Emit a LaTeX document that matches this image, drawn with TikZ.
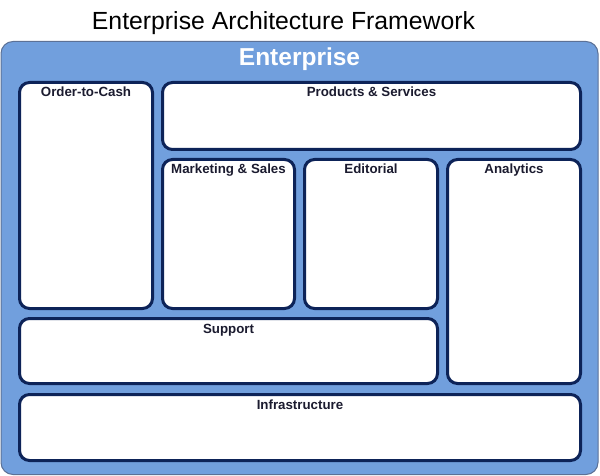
\documentclass[tikz,border=0pt]{standalone}
\usepackage{fontspec}
\setmainfont{Liberation Sans}
\definecolor{entfill}{HTML}{719FDD}
\definecolor{entline}{HTML}{5C7196}
\definecolor{boxline}{HTML}{0D2358}
\definecolor{lbltext}{HTML}{1B1B2F}
\begin{document}
\begin{tikzpicture}[x=1pt,y=-1pt,
  outerbox/.style={draw=entline, line width=1pt, fill=entfill, rounded corners=12pt, inner sep=0pt},
  box/.style={draw=boxline, line width=3pt, fill=white, rounded corners=10pt, inner sep=0pt},
  lbl/.style={anchor=base, inner sep=0pt, text=lbltext, font=\fontsize{13.3}{15}\selectfont\bfseries, yshift=-16pt},
  titlestyle/.style={anchor=base, inner sep=0pt, font=\fontsize{24.8}{28}\selectfont},
  entstyle/.style={anchor=base, inner sep=0pt, text=white, font=\fontsize{24.5}{28}\selectfont\bfseries}]
\useasboundingbox (0,0) rectangle (600,476);
\node[titlestyle] (title) at (283.5,30) {Enterprise Architecture Framework};
\node[outerbox, minimum width=597pt, minimum height=433pt] (ent) at (299.5,258) {};
\node[entstyle] (entlbl) at (299.5,66) {Enterprise};
\node[box, minimum width=133pt, minimum height=226pt] (otc) at (86,195.5) {};
\node[box, minimum width=418pt, minimum height=67pt] (ps) at (371.5,116) {};
\node[box, minimum width=132pt, minimum height=149pt] (ms) at (228.5,234) {};
\node[box, minimum width=133pt, minimum height=149pt] (ed) at (371,234) {};
\node[box, minimum width=133pt, minimum height=224pt] (an) at (514,271.5) {};
\node[box, minimum width=418pt, minimum height=65pt] (sup) at (228.5,351) {};
\node[box, minimum width=561pt, minimum height=66pt] (inf) at (300,427.5) {};
\node[lbl] (otcl) at (otc.north) {Order-to-Cash};
\node[lbl] (psl) at (ps.north) {Products \& Services};
\node[lbl] (msl) at (ms.north) {Marketing \& Sales};
\node[lbl] (edl) at (ed.north) {Editorial};
\node[lbl] (anl) at (an.north) {Analytics};
\node[lbl] (supl) at (sup.north) {Support};
\node[lbl] (infl) at (inf.north) {Infrastructure};
\end{tikzpicture}
\end{document}
